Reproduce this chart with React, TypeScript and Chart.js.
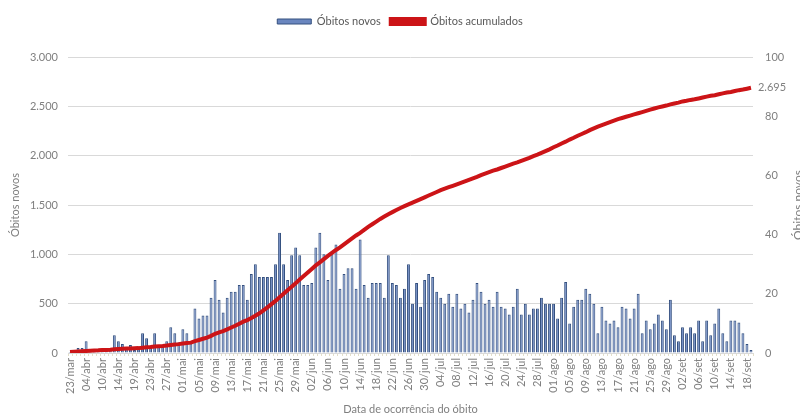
import React, { useEffect, useRef } from "react";
import { Chart, registerables } from "chart.js";

Chart.register(...registerables);

const FONT = 'Lato, "Open Sans", "DejaVu Sans", sans-serif';

// Early dates (days with records before May)
const earlyDates = [
  "23/mar", "25/mar", "28/mar", "01/abr", "04/abr", "06/abr", "07/abr", "08/abr",
  "10/abr", "11/abr", "12/abr", "13/abr", "14/abr", "15/abr", "16/abr", "17/abr",
  "19/abr", "20/abr", "21/abr", "22/abr", "23/abr", "24/abr", "25/abr", "26/abr",
  "27/abr", "28/abr", "29/abr", "30/abr",
];
// Daily dates from 01/mai to 19/set
const dailyMonths = [
  ["mai", 31],
  ["jun", 30],
  ["jul", 31],
  ["ago", 31],
  ["set", 19],
] as [string, number][];

const categories: string[] = [...earlyDates];
for (const [m, n] of dailyMonths) {
  for (let d = 1; d <= n; d++) categories.push(`${String(d).padStart(2, "0")}/${m}`);
}

const obitosNovos = [
  10, 20, 50, 50, 120, 20, 15, 20, 30, 20,
  30, 180, 120, 90, 40, 80, 30, 40, 200, 150,
  60, 200, 80, 60, 120, 260, 200, 110, 240, 200,
  100,
  450, 350, 380, 380, 560, 740, 540, 410, 560,
  620, 620, 690, 690, 540, 800, 900, 770, 770, 770,
  770, 900, 1220, 900, 740, 990, 1070, 990, 690, 690,
  710, 1070, 1220, 1000, 740, 1000, 1100, 650, 800, 860,
  860, 650, 1150, 690, 560, 710, 710, 710, 560, 990,
  710, 690, 560, 650, 900, 500, 710, 470, 740, 800,
  770, 620, 560, 500, 600, 470, 600, 450, 500, 410,
  540, 710, 620, 500, 540, 470, 620, 470, 450, 390,
  470, 650, 390, 500, 390, 450, 450, 560, 500, 500,
  500, 350, 560, 720, 300, 470, 540, 540, 650, 600,
  500, 200, 470, 330, 300, 330, 260, 470, 450, 350,
  450, 600, 200, 330, 240, 300, 390, 330, 240, 540,
  180, 120, 260, 200, 260, 200, 330, 120, 330, 180,
  300, 450, 200, 120, 330, 330, 310, 200, 90, 30,
];

const obitosAcumulados = [
  0.3, 0.4, 0.5, 0.6, 0.7, 0.8, 0.85, 0.9, 1.0, 1.05,
  1.1, 1.25, 1.35, 1.45, 1.5, 1.55, 1.6, 1.65, 1.8, 1.95,
  2.0, 2.2, 2.3, 2.35, 2.5, 2.7, 2.9, 3.0, 3.2, 3.4,
  3.5, 4.0, 4.4, 4.8, 5.2, 5.8, 6.5, 7.0, 7.4, 8.0,
  8.6, 9.2, 9.9, 10.6, 11.1, 11.8, 12.6, 13.4, 14.4, 15.4,
  16.5, 17.6, 18.8, 20.0, 21.2, 22.4, 23.6, 24.8, 26.0, 27.2,
  28.4, 29.6, 30.6, 31.7, 32.8, 33.8, 34.8, 35.7, 36.7, 37.7,
  38.7, 39.7, 40.6, 41.6, 42.6, 43.5, 44.4, 45.3, 46.1, 46.9,
  47.6, 48.3, 49.0, 49.6, 50.2, 50.8, 51.4, 52.0, 52.6, 53.2,
  53.8, 54.4, 55.0, 55.5, 56.0, 56.5, 57.0, 57.5, 58.0, 58.5,
  59.0, 59.5, 60.1, 60.6, 61.1, 61.6, 62.0, 62.5, 63.0, 63.5,
  64.0, 64.4, 64.9, 65.4, 65.9, 66.5, 67.0, 67.6, 68.2, 68.8,
  69.5, 70.1, 70.8, 71.4, 72.1, 72.7, 73.4, 74.0, 74.6, 75.3,
  75.9, 76.5, 77.0, 77.5, 78.0, 78.5, 79.0, 79.4, 79.8, 80.2,
  80.6, 81.0, 81.4, 81.8, 82.2, 82.6, 83.0, 83.3, 83.6, 84.0,
  84.3, 84.6, 85.0, 85.2, 85.5, 85.7, 86.0, 86.3, 86.6, 86.9,
  87.1, 87.4, 87.7, 88.0, 88.2, 88.5, 88.8, 89.0, 89.3, 89.6,
];

const leftTicks = [0, 500, 1000, 1500, 2000, 2500, 3000];
const rightTicks = [0, 20, 40, 60, 80, 100];
const lastLabel = "2.695";
const labelEvery = 4;

const fmt = (v: number) => String(v).replace(/\B(?=(\d{3})+(?!\d))/g, ".");

export default function App() {
  const ref = useRef<HTMLCanvasElement | null>(null);

  useEffect(() => {
    document.body.style.margin = "0";
    const canvas = ref.current;
    if (!canvas) return;

    const extras = {
      id: "extras",
      beforeInit(chart: any) {
        const orig = chart.legend.fit;
        chart.legend.fit = function () {
          orig.call(this);
          this.height += 20;
        };
      },
      afterDatasetsDraw(chart: any) {
        const ctx = chart.ctx;
        const meta = chart.getDatasetMeta(1);
        const last = meta.data[meta.data.length - 1];
        ctx.save();
        ctx.font = `11px ${FONT}`;
        ctx.fillStyle = "#7f7f7f";
        ctx.textAlign = "left";
        ctx.textBaseline = "middle";
        ctx.fillText(lastLabel, last.x + 7, last.y);
        ctx.translate(chart.width + 2, (chart.chartArea.top + chart.chartArea.bottom) / 2);
        ctx.rotate(-Math.PI / 2);
        ctx.textAlign = "center";
        ctx.textBaseline = "alphabetic";
        ctx.font = `12px ${FONT}`;
        ctx.fillText("Óbitos novos", 0, 0);
        ctx.restore();
      },
    };

    const chart = new Chart(canvas, {
      type: "bar",
      data: {
        labels: categories,
        datasets: [
          {
            type: "bar",
            label: "Óbitos novos",
            data: obitosNovos,
            yAxisID: "y",
            backgroundColor: "#6a86bf",
            borderColor: "#34507f",
            borderWidth: 1,
            barPercentage: 0.72,
            categoryPercentage: 1,
            order: 2,
          },
          {
            type: "line",
            label: "Óbitos acumulados",
            data: obitosAcumulados,
            yAxisID: "y1",
            borderColor: "#cc1417",
            backgroundColor: "#cc1417",
            borderWidth: 4,
            pointRadius: 0,
            tension: 0,
            order: 1,
          },
        ],
      },
      options: {
        responsive: false,
        animation: false,
        layout: { padding: { top: 6, left: 0, right: 0, bottom: 0 } },
        plugins: {
          tooltip: { enabled: false },
          legend: {
            position: "top",
            labels: {
              font: { family: FONT, size: 11 },
              color: "#595959",
              boxWidth: 34,
              boxHeight: 5,
              padding: 10,
              sort: (a: any, b: any) => a.datasetIndex - b.datasetIndex,
            },
          },
        },
        scales: {
          x: {
            offset: true,
            grid: {
              display: true,
              drawOnChartArea: false,
              drawTicks: true,
              tickLength: 3,
              color: "#e3dfc8",
            },
            border: { color: "#d9d9d9" },
            ticks: {
              autoSkip: false,
              maxRotation: 90,
              minRotation: 90,
              padding: 2,
              color: "#7f7f7f",
              font: { family: FONT, size: 11 },
              callback: (_v: any, i: number) => (i % labelEvery === 0 ? categories[i] : ""),
            },
            title: {
              display: true,
              text: "Data de ocorrência do óbito",
              color: "#7f7f7f",
              font: { family: FONT, size: 11 },
              padding: { top: 0, bottom: 3 },
            },
            afterFit: (s: any) => {
              s.height = 66;
            },
          },
          y: {
            position: "left",
            min: 0,
            max: 3000,
            afterBuildTicks: (s: any) => {
              s.ticks = leftTicks.map((v) => ({ value: v }));
            },
            grid: { color: "#d9d9d9", drawTicks: false },
            border: { display: false },
            ticks: {
              padding: 10,
              color: "#7f7f7f",
              font: { family: FONT, size: 11 },
              callback: (v: any) => fmt(Number(v)),
            },
            title: {
              display: true,
              text: "Óbitos novos",
              color: "#7f7f7f",
              font: { family: FONT, size: 11 },
              padding: { top: 9, bottom: 0 },
            },
            afterFit: (s: any) => {
              s.width = 68;
            },
          },
          y1: {
            position: "right",
            min: 0,
            max: 100,
            afterBuildTicks: (s: any) => {
              s.ticks = rightTicks.map((v) => ({ value: v }));
            },
            grid: { drawOnChartArea: false, drawTicks: false },
            border: { display: false },
            ticks: {
              padding: 12,
              color: "#7f7f7f",
              font: { family: FONT, size: 11 },
            },
            afterFit: (s: any) => {
              s.width = 47;
            },
          },
        },
      },
      plugins: [extras],
    } as any);

    return () => chart.destroy();
  }, []);

  return (
    <div style={{ width: 800, height: 419, background: "#fff" }}>
      <canvas ref={ref} width={800} height={419} style={{ display: "block" }} />
    </div>
  );
}
